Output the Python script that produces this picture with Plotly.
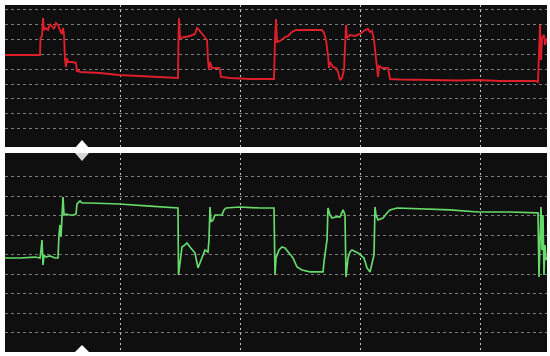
import plotly.graph_objects as go

# Channel 1 (red) — time in ms, level in counts
t_ch1 = [5, 20, 30, 38, 40, 40.5, 42, 43, 44, 46, 48, 50, 52, 54, 56, 58, 60, 62, 63, 64,
         65, 66, 67, 68, 72, 76, 77, 78, 80, 100, 119, 140, 160, 176, 178, 178.5, 179, 180,
         185, 190, 195, 197, 199, 202, 205, 207, 208, 209, 210, 212, 219, 220, 221, 230,
         250, 270, 274, 275, 276, 277, 280, 285, 288, 292, 296, 305, 315, 322, 324, 326,
         328, 329, 330, 333, 336, 338, 340, 342, 344, 345, 346, 347, 350, 355, 360, 365,
         368, 370, 372, 374, 376, 377, 378, 379, 382, 388, 390, 400, 430, 460, 478, 500,
         520, 536, 538, 539, 540, 541, 542, 544, 545, 547]
v_ch1 = [89, 89, 89.5, 89, 89, 106, 108, 126, 114, 116, 114, 120, 117, 115, 121, 119, 114, 110, 116, 110,
         84, 77, 86, 82, 82, 81, 72, 74, 72, 71, 69, 68, 67, 66, 66, 106, 126, 106,
         107, 108, 110, 116, 114, 110, 107, 104, 84, 74, 82, 76, 76, 74, 67, 66,
         65, 65, 65, 104, 125, 102, 103, 107, 108, 112, 114, 114, 114, 114, 111, 104,
         89, 76, 82, 77, 76, 72, 64, 66, 74, 106, 119, 106, 109, 108, 110, 114,
         115, 112, 113, 104, 84, 72, 67, 78, 76, 76, 65, 64.5, 64, 63.5, 64, 63,
         63, 63, 62, 104, 119, 84, 106, 109, 99, 106]

# Channel 2 (green)
t_ch2 = [5, 20, 35, 40, 41, 42, 43, 44, 46, 50, 55, 58, 59, 60, 61, 62, 63, 64, 66, 70,
         74, 76, 77, 80, 82, 90, 119, 150, 176, 178, 178.5, 180, 182, 185, 187, 190, 195,
         198, 201, 202, 205, 208, 209, 210, 211, 213, 215, 222, 224, 226, 240, 260, 274,
         275, 276, 279, 282, 285, 289, 293, 297, 302, 310, 323, 324, 325, 326, 327, 328,
         330, 332, 336, 340, 342, 343, 345, 346, 348, 350, 352, 358, 364, 367, 370, 372,
         374, 375, 376, 378, 383, 387, 390, 397, 420, 450, 478, 510, 537, 538, 539, 540,
         541, 542, 543, 544, 545, 546, 547]
v_ch2 = [96.9, 96.9, 97.9, 96.9, 105.1, 115.4, 89.7, 100.0, 97.9, 99.0, 96.9, 96.9, 120.5, 130.8, 118.5, 137.9, 159.5, 141.0, 142.0, 141.0,
         141.0, 142.0, 152.3, 155.4, 153.3, 153.3, 152.3, 150.2, 148.2, 148.2, 79.5, 94.9, 108.2, 110.3, 112.3, 108.2, 102.0,
         86.7, 94.9, 97.9, 105.1, 103.1, 115.4, 149.2, 133.8, 135.9, 141.0, 141.0, 146.2, 148.2, 149.2, 148.2, 148.2,
         79.5, 96.9, 105.1, 108.2, 107.2, 102.0, 96.9, 87.7, 84.6, 82.6, 82.6, 92.8, 100.0, 105.1, 115.4, 148.2,
         141.0, 137.9, 139.0, 139.0, 144.1, 146.2, 141.0, 77.4, 96.9, 103.1, 105.1, 102.0, 96.9, 86.7, 82.6, 92.8,
         100.0, 149.2, 141.0, 135.9, 137.9, 143.1, 146.2, 148.2, 147.2, 146.2, 144.1, 144.1, 143.1, 143.1, 77.4, 125.6,
         149.2, 105.1, 141.0, 79.5, 110.3, 94.9, 97.9]

x_grid = [120, 240, 360, 480]
y1_grid = [15, 30, 45, 60, 75, 90, 105, 120, 135]
y2_grid = [20, 40, 60, 80, 100, 120, 140, 160, 180]

fig = go.Figure()
fig.add_trace(go.Scatter(x=t_ch1, y=v_ch1, mode="lines", xaxis="x", yaxis="y",
                         line=dict(color="#dc1f2b", width=1.9), hoverinfo="skip"))
fig.add_trace(go.Scatter(x=t_ch2, y=v_ch2, mode="lines", xaxis="x2", yaxis="y2",
                         line=dict(color="#66da6a", width=1.7), hoverinfo="skip"))

xcommon = dict(range=[5, 547], tickvals=x_grid, showticklabels=False, ticks="",
               showgrid=True, gridcolor="#c4c4c4", griddash="2px,3px", gridwidth=1,
               zeroline=False, showline=False, fixedrange=True)
ycommon = dict(showticklabels=False, ticks="", showgrid=True, gridcolor="#7c7c7c",
               griddash="3px,3px", gridwidth=1, zeroline=False, showline=False, fixedrange=True)

# triangle markers on the divider band and the lower edge
tri = dict(type="path", xref="x", xsizemode="pixel", xanchor=82, yref="paper",
           ysizemode="pixel", line=dict(width=0))
shapes = [
    dict(tri, yanchor=0.582, path="M -7,2 L 7,2 L 0,10 Z", fillcolor="#ffffff"),
    dict(tri, yanchor=0.582, path="M -7,-3 L 7,-3 L 0,-11 Z", fillcolor="#d6d6d6"),
    dict(tri, yanchor=0.0, path="M -7,0 L 7,0 L 0,7 Z", fillcolor="#ffffff"),
]

fig.update_layout(
    width=550, height=356,
    margin=dict(l=5, r=3, t=5, b=4),
    paper_bgcolor="#ffffff", plot_bgcolor="#0f0f0f",
    showlegend=False,
    xaxis=dict(xcommon, anchor="y"),
    xaxis2=dict(xcommon, anchor="y2", matches="x"),
    yaxis=dict(ycommon, domain=[0.5908, 1.0], range=[-3, 139], tickvals=y1_grid),
    yaxis2=dict(ycommon, domain=[0.0, 0.5735], range=[0.5, 204.6], tickvals=y2_grid),
    shapes=shapes,
)

fig.write_html("out.html", config={"displayModeBar": False})
